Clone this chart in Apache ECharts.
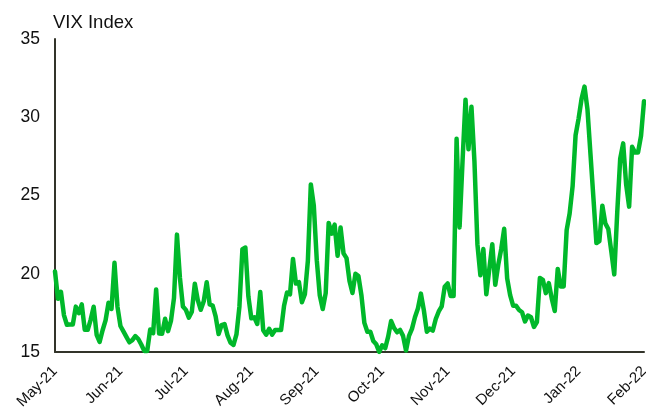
<!DOCTYPE html>
<html>
<head>
<meta charset="utf-8">
<script src="https://cdn.jsdelivr.net/npm/echarts@6/dist/echarts.min.js"></script>
<style>
html,body{margin:0;padding:0;background:#fff;}
#chart{width:646px;height:411px;}
</style>
</head>
<body>
<div id="chart"></div>
<script>
// VIX Index, daily (weekdays), late May 2021 to late Feb 2022
const vixMay21 = [20.15, 18.40, 18.84, 17.36, 16.74, 16.76, 16.76];
const vixJun21 = [17.90, 17.48, 18.04, 16.42, 16.42, 17.07, 17.89, 16.10, 15.65, 16.39, 17.02, 18.15, 17.75, 20.70, 17.89, 16.66, 16.32, 15.97, 15.62, 15.76, 16.02, 15.83];
const vixJul21 = [15.48, 15.07, 15.07, 16.44, 16.20, 19.00, 16.18, 16.17, 17.12, 16.33, 17.01, 18.45, 22.50, 19.73, 17.91, 17.69, 17.20, 17.58, 19.36, 18.31, 17.70, 18.24];
const vixAug21 = [19.46, 18.04, 17.97, 17.28, 16.15, 16.72, 16.79, 16.06, 15.59, 15.45, 16.12, 17.91, 21.57, 21.67, 18.56, 17.15, 17.22, 16.79, 18.84, 16.39, 16.11, 16.48];
const vixSep21 = [16.11, 16.41, 16.41, 16.41, 17.96, 18.80, 18.68, 20.95, 19.37, 19.46, 18.18, 18.69, 20.81, 25.71, 24.36, 20.87, 18.63, 17.75, 18.76, 23.25, 22.56, 23.14];
const vixOct21 = [21.15, 22.96, 21.30, 21.00, 19.54, 18.77, 20.00, 19.85, 18.64, 16.86, 16.30, 16.30, 15.70, 15.49, 15.01, 15.43, 15.24, 15.98, 16.98, 16.53, 16.26];
const vixNov21 = [16.41, 16.03, 15.10, 16.03, 16.48, 17.22, 17.78, 18.73, 17.66, 16.29, 16.49, 16.37, 17.11, 17.59, 17.91, 19.17, 19.38, 18.58, 18.58, 28.62, 22.96, 27.19];
const vixDec21 = [31.12, 27.95, 30.67, 27.18, 21.89, 19.90, 21.58, 18.69, 20.31, 21.89, 19.29, 20.57, 21.57, 22.87, 19.70, 18.63, 17.96, 17.96, 17.68, 17.54, 16.95, 17.33, 17.22];
const vixJan22 = [16.60, 16.91, 19.73, 19.61, 18.76, 19.40, 18.41, 17.62, 20.31, 19.19, 19.19, 22.79, 23.85, 25.59, 28.85, 29.90, 31.16, 31.96, 30.49, 27.66, 24.83];
const vixFeb22 = [21.96, 22.09, 24.35, 23.22, 22.86, 21.44, 19.96, 23.91, 27.36, 28.33, 25.70, 24.29, 28.11, 27.75, 27.75, 28.81, 31.02];

const tickLabels = ['May-21','Jun-21','Jul-21','Aug-21','Sep-21','Oct-21','Nov-21','Dec-21','Jan-22','Feb-22'];
const labelEvery = 22;
const yTicks = {min: 15, max: 35, step: 5};
const titleText = 'VIX Index';

const values = [].concat(vixMay21, vixJun21, vixJul21, vixAug21, vixSep21, vixOct21, vixNov21, vixDec21, vixJan22, vixFeb22);
const categories = values.map((v, i) => String(i));

const chart = echarts.init(document.getElementById('chart'), null, {renderer: 'canvas'});
chart.setOption({
  animation: false,
  backgroundColor: '#ffffff',
  title: {
    text: titleText,
    left: 53, top: 13, padding: 0,
    textStyle: {fontFamily: 'Liberation Sans, Arial, sans-serif', fontSize: 18.5, fontWeight: 'normal', color: '#111'}
  },
  grid: {left: 55, right: 2, top: 39, bottom: 59, containLabel: false, outerBoundsMode: 'none'},
  xAxis: {
    type: 'category',
    data: categories,
    boundaryGap: false,
    axisLine: {show: true, lineStyle: {color: '#33342a', width: 2}},
    axisTick: {show: false},
    splitLine: {show: false},
    axisLabel: {
      interval: labelEvery - 1,
      rotate: 45,
      margin: 17,
      fontFamily: 'Liberation Sans, Arial, sans-serif',
      fontSize: 15,
      color: '#111',
      formatter: function (val, idx) {
        const k = Math.round(idx / labelEvery);
        return tickLabels[k] || '';
      }
    }
  },
  yAxis: {
    type: 'value',
    min: yTicks.min, max: yTicks.max, interval: yTicks.step,
    axisLine: {show: true, lineStyle: {color: '#33342a', width: 2}},
    axisTick: {show: false},
    splitLine: {show: false},
    axisLabel: {
      margin: 15,
      fontFamily: 'Liberation Sans, Arial, sans-serif',
      fontSize: 17.5,
      color: '#111'
    }
  },
  series: [{
    type: 'line',
    data: values,
    showSymbol: false,
    symbol: 'none',
    lineStyle: {color: '#00b82a', width: 4.5, join: 'round', cap: 'round'},
    itemStyle: {color: '#00b82a'}
  }]
});
</script>
</body>
</html>
